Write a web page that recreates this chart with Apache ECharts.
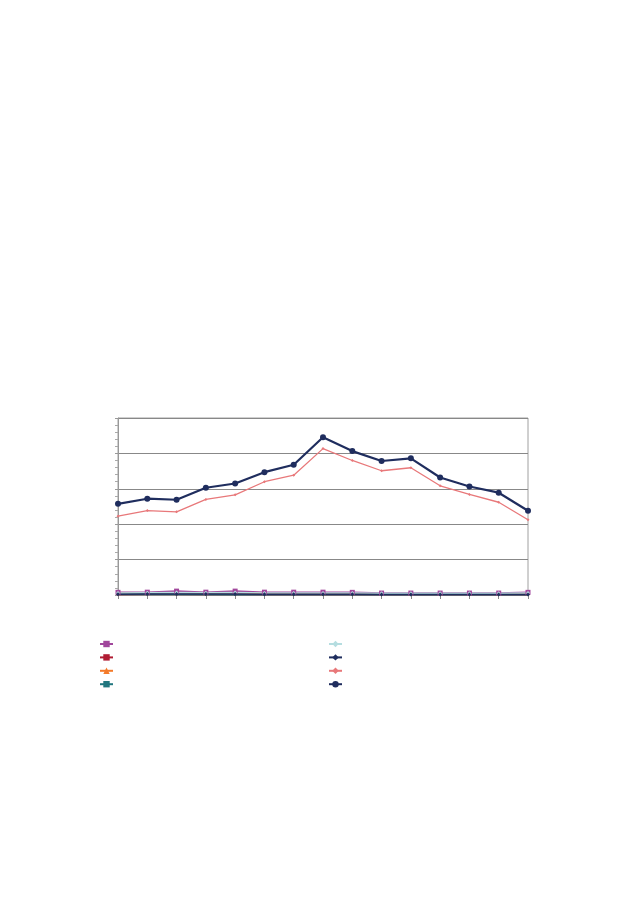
<!DOCTYPE html>
<html>
<head>
<meta charset="utf-8">
<script src="https://cdn.jsdelivr.net/npm/echarts@6/dist/echarts.min.js"></script>
<style>
  html, body { margin: 0; padding: 0; background: #fff; }
  #main { width: 630px; height: 906px; }
</style>
</head>
<body>
<div id="main"></div>
<script>
// categories (no labels shown on the chart)
var categories = ['1', '2', '3', '4', '5', '6', '7', '8', '9', '10', '11', '12', '13', '14', '15'];

// series values
var purpleSq   = [1.5, 1.6, 2.2, 1.6, 2.2, 1.6, 1.6, 1.6, 1.5, 1.1, 1.1, 1.1, 1.1, 1.1, 1.5];
var crimson    = [0.3, 0.4, 0.4, 0.3, 0.3, 0.2, 0.2, 0.2, 0.2, 0.2, 0.2, 0.2, 0.2, 0.2, 0.2];
var orange     = [0.9, 1.0, 1.2, 1.0, 1.3, 0.8, 0.7, 0.6, 0.6, 0.5, 0.5, 0.5, 0.5, 0.5, 0.5];
var teal       = [0.6, 0.5, 0.4, 0.3, 0.2, 0.1, 0.1, 0.1, 0.1, 0.1, 0.1, 0.1, 0.1, 0.1, 0.1];
var lightBlue  = [1.2, 1.3, 1.4, 1.3, 1.4, 1.2, 1.2, 1.2, 1.2, 1.0, 1.0, 1.0, 1.0, 1.0, 1.1];
var navyDia    = [0.4, 0.5, 0.6, 0.5, 0.6, 0.4, 0.4, 0.4, 0.4, 0.3, 0.3, 0.3, 0.3, 0.3, 0.3];
var salmon     = [44.5, 47.7, 47.0, 54.0, 56.6, 64.0, 67.7, 82.7, 76.0, 70.2, 71.9, 61.7, 56.8, 52.4, 42.5];
var navyCircle = [51.5, 54.4, 53.8, 60.6, 63.0, 69.4, 73.6, 89.1, 81.3, 75.7, 77.2, 66.4, 61.3, 57.8, 47.6];

var seriesNames = ['A', 'B', 'C', 'D', 'E', 'F', 'G', 'H'];

var chart = echarts.init(document.getElementById('main'));

function line(name, data, color, symbol, size, width) {
    return {
        name: name,
        type: 'line',
        data: data,
        symbol: symbol,
        symbolSize: size,
        showSymbol: true,
        lineStyle: { color: color, width: width },
        itemStyle: { color: color },
        animation: false
    };
}

var option = {
    backgroundColor: '#fff',
    grid: {
        left: 118, right: 102, top: 418, bottom: 311,
        show: true, borderColor: '#a0a0a0', borderWidth: 1
    },
    legend: [{
        data: seriesNames.slice(0, 4),
        orient: 'vertical',
        left: 94, top: 635,
        itemWidth: 13, itemHeight: 8, itemGap: 6.2,
        textStyle: { fontSize: 1, color: '#fff' },
        formatter: function () { return ''; }
    }, {
        data: seriesNames.slice(4, 8),
        orient: 'vertical',
        left: 323, top: 635,
        itemWidth: 13, itemHeight: 8, itemGap: 6.2,
        textStyle: { fontSize: 1, color: '#fff' },
        formatter: function () { return ''; }
    }],
    xAxis: {
        type: 'category',
        data: categories,
        boundaryGap: false,
        axisLine: { lineStyle: { color: '#888' } },
        axisTick: { show: true, length: 4, alignWithLabel: true, lineStyle: { color: '#888' } },
        axisLabel: { show: false },
        splitLine: { show: false }
    },
    yAxis: {
        type: 'value',
        min: 0, max: 100, interval: 20,
        axisLine: { show: true, lineStyle: { color: '#999' } },
        axisTick: { show: true, length: 3, lineStyle: { color: '#999' } },
        minorTick: { show: true, splitNumber: 5, length: 3, lineStyle: { color: '#aaa' } },
        axisLabel: { show: false },
        splitLine: { show: true, lineStyle: { color: '#888', width: 1 } }
    },
    series: [
        line('A', purpleSq, '#a1479c', 'rect', 5, 1.5),
        line('B', crimson, '#b01c33', 'rect', 2, 1.5),
        line('C', orange, '#f47a2a', 'triangle', 3, 1.5),
        line('D', teal, '#21777f', 'rect', 2, 1.5),
        line('E', lightBlue, '#b5dde0', 'diamond', 4, 1.5),
        line('F', navyDia, '#1f2e5e', 'diamond', 4, 1.5),
        line('G', salmon, '#e8787a', 'diamond', 3, 1.3),
        line('H', navyCircle, '#1f2d5e', 'circle', 6, 2.2)
    ]
};

chart.setOption(option);
</script>
</body>
</html>
